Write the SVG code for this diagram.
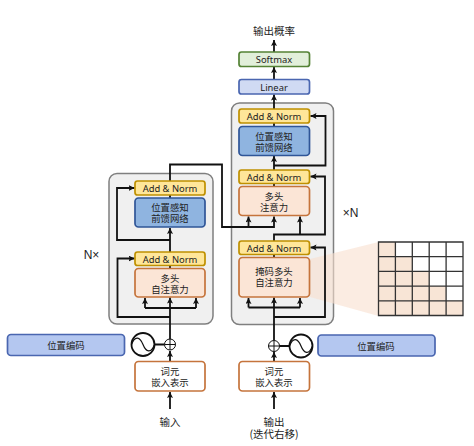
<svg xmlns="http://www.w3.org/2000/svg" width="474" height="446" viewBox="0 0 474 446">
<style>
text{font-family:"Noto Sans CJK SC","Noto Sans",sans-serif;font-size:9.4px;fill:#222;text-anchor:middle}
.en{font-family:"Noto Sans","DejaVu Sans",sans-serif;font-size:9.4px}
.lb{font-size:10.5px}
.nn{font-family:"Liberation Sans",sans-serif;font-size:12px}
.frame{fill:#f0f0f0;stroke:#7f7f7f;stroke-width:1.5}
.an rect{fill:#ffe699;stroke:#bf9000;stroke-width:1.7}
.att rect{fill:#fbe5d6;stroke:#c5743c;stroke-width:1.7}
.ffn rect{fill:#8fb4e0;stroke:#2f5597;stroke-width:1.7}
.emb rect{fill:#fff;stroke:#c5743c;stroke-width:1.7}
.pe rect{fill:#b4c7f0;stroke:#4a66b0;stroke-width:1.7}
.c{fill:none;stroke:#111;stroke-width:1.8}
.a{fill:#111;stroke:none}
</style>
<defs>
<marker id="ar" markerUnits="userSpaceOnUse" markerWidth="8" markerHeight="8" refX="6" refY="3" orient="auto"><path d="M0 0L6 3L0 6L1.2 3Z" class="a"/></marker>
</defs>
<g id="encoder-frame"><rect class="frame" x="109" y="173.5" width="104" height="150.5" rx="8"/></g>
<g id="decoder-frame"><rect class="frame" x="231.5" y="103" width="102" height="221.5" rx="8"/></g>
<polygon id="mask-wedge" points="310,259 378.5,242 378.5,316 310,297" fill="#f8e0cf" opacity="0.6"/>
<g id="connectors" class="c">
<path d="M170 409V392" marker-end="url(#ar)"/>
<path d="M170 361V351" marker-end="url(#ar)"/>
<path d="M170 339V297.5" marker-end="url(#ar)"/>
<path d="M145 308H196"/>
<path d="M145 308V298" marker-end="url(#ar)"/>
<path d="M196 308V298" marker-end="url(#ar)"/>
<path d="M170 317H117.5V258.5H134.5" marker-end="url(#ar)"/>
<path d="M170 268V265M170 252V228" marker-end="url(#ar)"/>
<path d="M170 240H117V188H134.5" marker-end="url(#ar)"/>
<path d="M170 198V195M170 181V164.5H222V227H274V216.5" marker-end="url(#ar)"/>
<path d="M248.5 227V216.5" marker-end="url(#ar)"/>
<path d="M274 409V392" marker-end="url(#ar)"/>
<path d="M274 361V352" marker-end="url(#ar)"/>
<path d="M274 340V297.5" marker-end="url(#ar)"/>
<path d="M248.5 307.5H300"/>
<path d="M248.5 307.5V298" marker-end="url(#ar)"/>
<path d="M300 307.5V298" marker-end="url(#ar)"/>
<path d="M274 317H325V247.5H310.5" marker-end="url(#ar)"/>
<path d="M274 257V254M274 241V234.5H325V176.5H310.5" marker-end="url(#ar)"/>
<path d="M300 234.5V216.5" marker-end="url(#ar)"/>
<path d="M274 186V183M274 170V156" marker-end="url(#ar)"/>
<path d="M274 165.5H325.5V116H310.5" marker-end="url(#ar)"/>
<path d="M274 126V123M274 109V94.5" marker-end="url(#ar)"/>
<path d="M274 79V67" marker-end="url(#ar)"/>
<path d="M274 52V40" marker-end="url(#ar)"/>
<path d="M154.5 344.5H164.5M279.5 346H289.5"/>
</g>
<g id="enc-addnorm2" class="an"><rect x="135" y="181" width="70" height="14" rx="2.5"/><text class="en" x="170" y="191.5">Add &amp; Norm</text></g>
<g id="enc-ffn" class="ffn"><rect x="135" y="198" width="70" height="29" rx="3.5"/><text x="170" y="211">位置感知<tspan x="170" dy="11">前馈网络</tspan></text></g>
<g id="enc-addnorm1" class="an"><rect x="135" y="252" width="70" height="13.5" rx="2.5"/><text class="en" x="170" y="262.5">Add &amp; Norm</text></g>
<g id="enc-mha" class="att"><rect x="135" y="268.5" width="70" height="28.5" rx="3.5"/><text x="170" y="282">多头<tspan x="170" dy="11">自注意力</tspan></text></g>
<g id="enc-embed" class="emb"><rect x="135" y="361.5" width="70" height="29.5" rx="3.5"/><text x="170" y="375">词元<tspan x="170" dy="10.5">嵌入表示</tspan></text></g>
<g id="enc-pe" class="pe"><rect x="7.5" y="334.5" width="117" height="21" rx="3.5"/><text x="66" y="349">位置编码</text></g>
<g id="enc-sine"><circle cx="143" cy="344.5" r="11.5" fill="#fff" stroke="#111" stroke-width="1.8"/><path d="M131.5 344.5C135 335 140 337 143 344.5C146 352 151 354 154.5 344.5" fill="none" stroke="#111" stroke-width="1.2"/></g>
<g id="enc-plus"><circle cx="170" cy="344.5" r="5.5" fill="#fff" stroke="#111" stroke-width="1"/><path d="M164.5 344.5H175.5M170 339V350" stroke="#111" stroke-width="1" fill="none"/></g>
<g id="enc-input"><text class="lb" x="170" y="426">输入</text></g>
<g id="enc-n"><text class="nn" x="91.5" y="259">N×</text></g>
<g id="dec-softmax"><rect x="239" y="52" width="70.5" height="14.5" rx="2.5" fill="#e2efda" stroke="#548235" stroke-width="1.7"/><text class="en" x="274" y="63">Softmax</text></g>
<g id="dec-linear"><rect x="239" y="79.5" width="70.5" height="14.5" rx="2.5" fill="#d0daf3" stroke="#4a66b0" stroke-width="1.7"/><text class="en" x="274" y="90.5">Linear</text></g>
<g id="dec-addnorm3" class="an"><rect x="239" y="109" width="70.5" height="14" rx="2.5"/><text class="en" x="274" y="119.5">Add &amp; Norm</text></g>
<g id="dec-ffn" class="ffn"><rect x="239" y="126.5" width="70.5" height="29" rx="3.5"/><text x="274" y="140">位置感知<tspan x="274" dy="10.5">前馈网络</tspan></text></g>
<g id="dec-addnorm2" class="an"><rect x="239" y="170" width="70.5" height="13.5" rx="2.5"/><text class="en" x="274" y="180.5">Add &amp; Norm</text></g>
<g id="dec-mha" class="att"><rect x="239" y="186.5" width="70.5" height="29" rx="3.5"/><text x="274" y="199.5">多头<tspan x="274" dy="11">注意力</tspan></text></g>
<g id="dec-addnorm1" class="an"><rect x="239" y="241" width="70.5" height="13.5" rx="2.5"/><text class="en" x="274" y="251.5">Add &amp; Norm</text></g>
<g id="dec-masked" class="att"><rect x="239" y="257.5" width="70.5" height="39.5" rx="3.5"/><text x="274" y="275">掩码多头<tspan x="274" dy="11">自注意力</tspan></text></g>
<g id="dec-embed" class="emb"><rect x="239" y="361.5" width="70.5" height="29.5" rx="3.5"/><text x="274" y="375">词元<tspan x="274" dy="10.5">嵌入表示</tspan></text></g>
<g id="dec-pe" class="pe"><rect x="318" y="335" width="117" height="21" rx="3.5"/><text x="376" y="349.5">位置编码</text></g>
<g id="dec-sine"><circle cx="301" cy="346" r="11.5" fill="#fff" stroke="#111" stroke-width="1.8"/><path d="M289.5 346C293 336.5 298 338.5 301 346C304 353.5 309 355.5 312.5 346" fill="none" stroke="#111" stroke-width="1.2"/></g>
<g id="dec-plus"><circle cx="274" cy="346" r="5.5" fill="#fff" stroke="#111" stroke-width="1"/><path d="M268.5 346H279.5M274 340.5V351.5" stroke="#111" stroke-width="1" fill="none"/></g>
<g id="dec-output"><text class="lb" x="274" y="426">输出<tspan x="274" dy="12">(迭代右移)</tspan></text></g>
<g id="dec-prob"><text class="lb" x="274" y="35">输出概率</text></g>
<g id="dec-n"><text class="nn" x="350.5" y="217">×N</text></g>
<g id="mask-grid">
<path fill="#f8e5d6" d="M378.5 242H395.4V256.7H412.3V271.4H429.2V286.1H446.1V300.8H463V315.5H378.5Z"/>
<path d="M378.5 242H463V315.5H378.5ZM378.5 256.7H463M378.5 271.4H463M378.5 286.1H463M378.5 300.8H463M395.4 242V315.5M412.3 242V315.5M429.2 242V315.5M446.1 242V315.5" fill="none" stroke="#333" stroke-width="1.3"/>
</g>
</svg>
